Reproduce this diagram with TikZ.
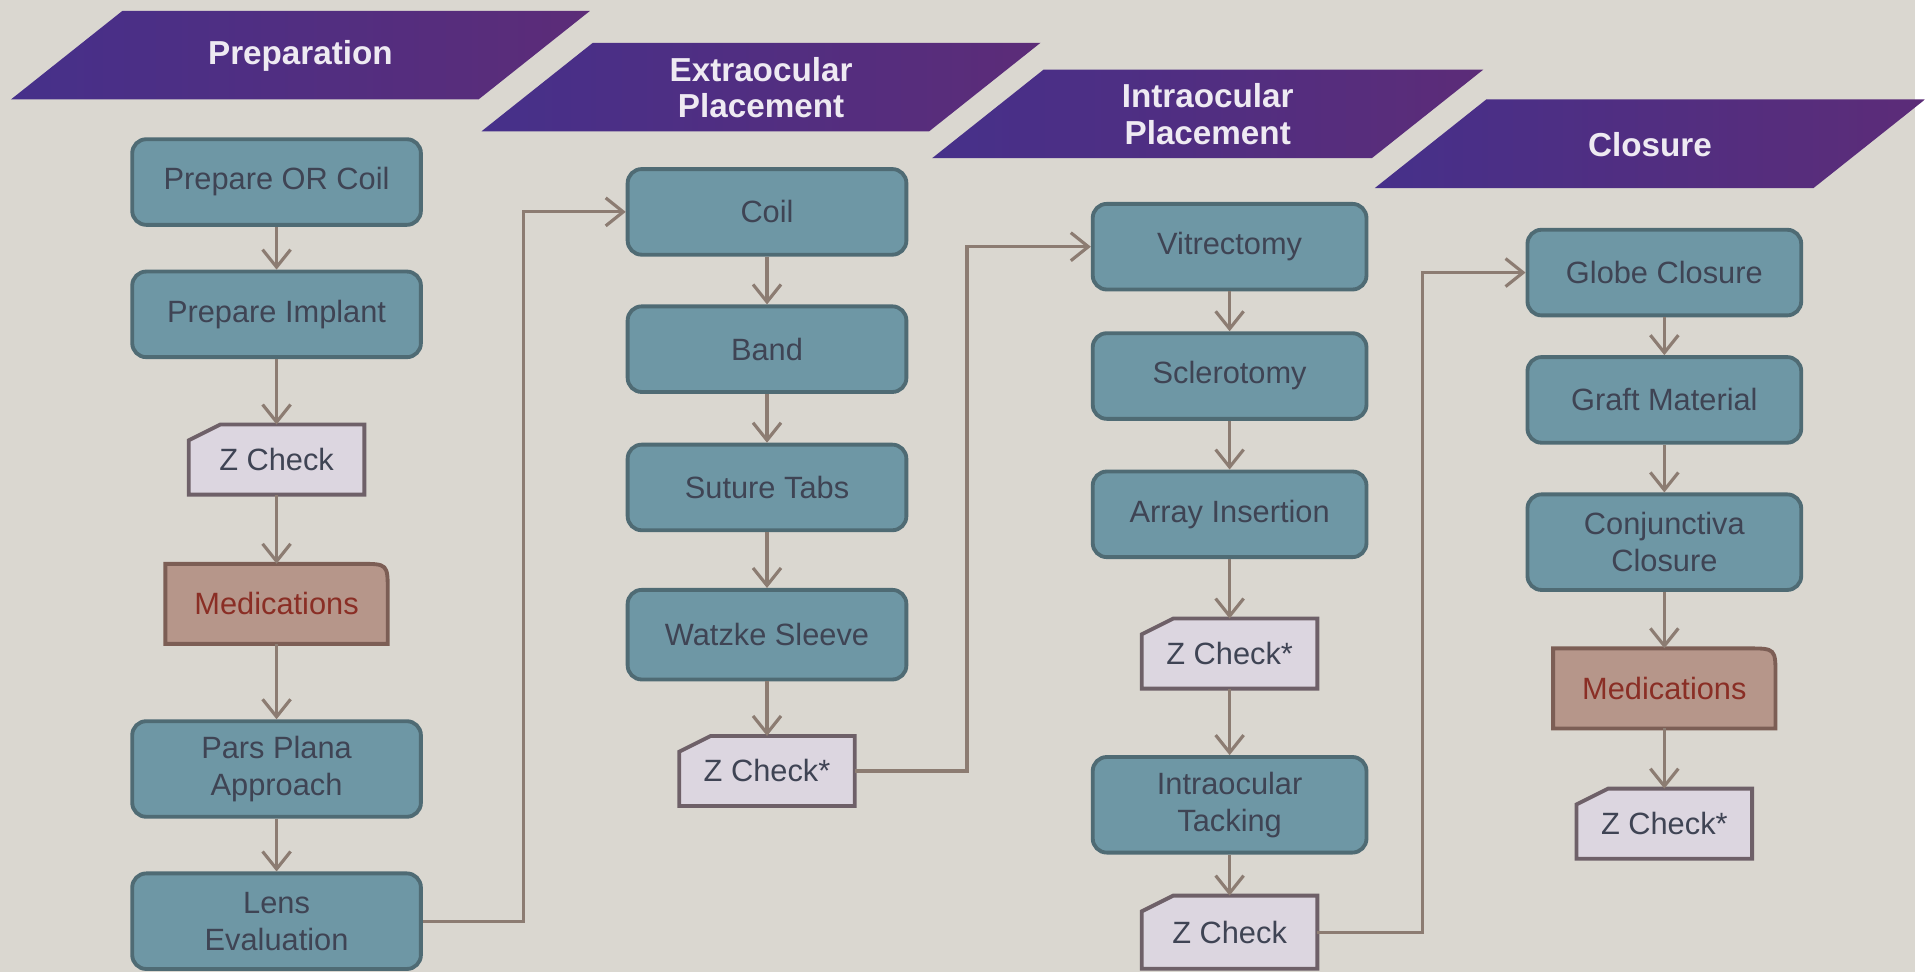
\documentclass[tikz,border=0pt]{standalone}
\usepackage{fontspec}
\setmainfont{Liberation Sans}
\usetikzlibrary{arrows.meta,backgrounds}

\definecolor{bgcol}{HTML}{DAD7D0}
\definecolor{boxfill}{HTML}{6E97A5}
\definecolor{boxline}{HTML}{4F6B74}
\definecolor{boxtext}{HTML}{3F4454}
\definecolor{chkfill}{HTML}{DCD6E0}
\definecolor{chkline}{HTML}{6E6068}
\definecolor{medfill}{HTML}{B6968A}
\definecolor{medline}{HTML}{7C5E55}
\definecolor{medtext}{HTML}{8A2E25}
\definecolor{purpA}{HTML}{46308A}
\definecolor{purpB}{HTML}{5C2C78}
\definecolor{headtxt}{HTML}{EEEAF2}
\definecolor{linecol}{HTML}{8C7C72}

\tikzset{
  stepbox/.style={rectangle, rounded corners=4pt, draw=boxline, fill=boxfill, line width=1.1pt,
    minimum width=2.8cm, minimum height=0.86cm, align=center, text=boxtext,
    font=\fontsize{8.8}{10.5}\selectfont},
  checkbox/.style={rectangle, minimum width=1.75cm, minimum height=0.69cm, text=boxtext,
    font=\fontsize{8.8}{10.5}\selectfont},
  medbox/.style={rectangle, minimum width=2.22cm, minimum height=0.79cm, text=medtext,
    font=\fontsize{8.8}{10.5}\selectfont},
  headtext/.style={text=headtxt, font=\bfseries\fontsize{9.5}{10.5}\selectfont, align=center},
  flow/.style={draw=linecol, line width=0.9pt, -{Straight Barb[length=5pt,width=8pt]}},
}

\begin{document}
\begin{tikzpicture}[x=0.01cm, y=-0.01cm]

% phase banners
\foreach \bl/\tp/\w/\nm/\txt in {11/11/470/hprep/Preparation,
    484/43/450/hextra/{Extraocular\\Placement},
    937/70/442/hintra/{Intraocular\\Placement},
    1382/100/441/hclose/Closure}{
    \shade[left color=purpA, right color=purpB] (\bl,\tp+89) -- (\bl+\w,\tp+89) -- (\bl+\w+112,\tp) -- (\bl+112,\tp) -- cycle;
    \node[headtext] (\nm) at (\bl+56+\w/2,\tp+45) {\txt};
}

% preparation
\node[stepbox, minimum width=2.9cm] (prepcoil) at (278,183) {Prepare OR Coil};
\node[stepbox, minimum width=2.9cm] (prepimpl) at (278,316) {Prepare Implant};
\node[checkbox] (zc1) at (278,462) {Z Check};
\node[medbox] (med1) at (278,607) {Medications};
\node[stepbox, minimum width=2.9cm, minimum height=0.96cm] (pars) at (278,773) {Pars Plana\\Approach};
\node[stepbox, minimum width=2.9cm, minimum height=0.96cm] (lens) at (278,926) {Lens\\Evaluation};

% extraocular
\node[stepbox] (coil) at (771,213) {Coil};
\node[stepbox] (band) at (771,351) {Band};
\node[stepbox] (suture) at (771,490) {Suture Tabs};
\node[stepbox, minimum height=0.9cm] (watzke) at (771,638) {Watzke Sleeve};
\node[checkbox] (zc2) at (771,775) {Z Check*};

% intraocular
\node[stepbox, minimum width=2.75cm] (vitr) at (1236,248) {Vitrectomy};
\node[stepbox, minimum width=2.75cm] (scler) at (1236,378) {Sclerotomy};
\node[stepbox, minimum width=2.75cm] (array) at (1236,517) {Array Insertion};
\node[checkbox] (zc3) at (1236,657) {Z Check*};
\node[stepbox, minimum width=2.75cm, minimum height=0.96cm] (tack) at (1236,809) {Intraocular\\Tacking};
\node[checkbox, minimum height=0.72cm] (zc4) at (1236,937) {Z Check};

% closure
\node[stepbox, minimum width=2.75cm] (globe) at (1673,274) {Globe Closure};
\node[stepbox, minimum width=2.75cm] (graft) at (1673,402) {Graft Material};
\node[stepbox, minimum width=2.75cm, minimum height=0.96cm] (conj) at (1673,545) {Conjunctiva\\Closure};
\node[medbox] (med2) at (1673,692) {Medications};
\node[checkbox] (zc5) at (1673,828) {Z Check*};

% cut corner and round corner boxes behind their text
\begin{pgfonlayer}{background}
    \fill[bgcol] (0,0) rectangle (1925,977);
    \foreach \n in {zc1,zc2,zc3,zc4,zc5}
        \filldraw[fill=chkfill, draw=chkline, line width=1.1pt] (\n.south west) -- ([yshift=-4.5pt]\n.north west) -- ([xshift=9pt]\n.north west) -- (\n.north east) -- (\n.south east) -- cycle;
    \foreach \n in {med1,med2}
        \filldraw[fill=medfill, draw=medline, line width=1.1pt] (\n.south west) -- (\n.north west) -- ([xshift=-8pt]\n.north east) .. controls (\n.north east) .. ([yshift=-8pt]\n.north east) -- (\n.south east) -- cycle;
\end{pgfonlayer}

% steps within a phase
\foreach \a/\b in {prepcoil/prepimpl, prepimpl/zc1, zc1/med1, med1/pars, pars/lens,
    coil/band, band/suture, suture/watzke, watzke/zc2,
    vitr/scler, scler/array, array/zc3, zc3/tack, tack/zc4,
    globe/graft, graft/conj, conj/med2, med2/zc5}
    \draw[flow] (\a) -- (\b);

% from one phase to the next
\coordinate (bendA) at (526,0);
\coordinate (bendB) at (972,0);
\coordinate (bendC) at (1430,0);
\draw[flow] (lens.east) -- (lens.east -| bendA) |- (coil.west);
\draw[flow] (zc2.east) -- (zc2.east -| bendB) |- (vitr.west);
\draw[flow] (zc4.east) -- (zc4.east -| bendC) |- (globe.west);

\end{tikzpicture}
\end{document}
